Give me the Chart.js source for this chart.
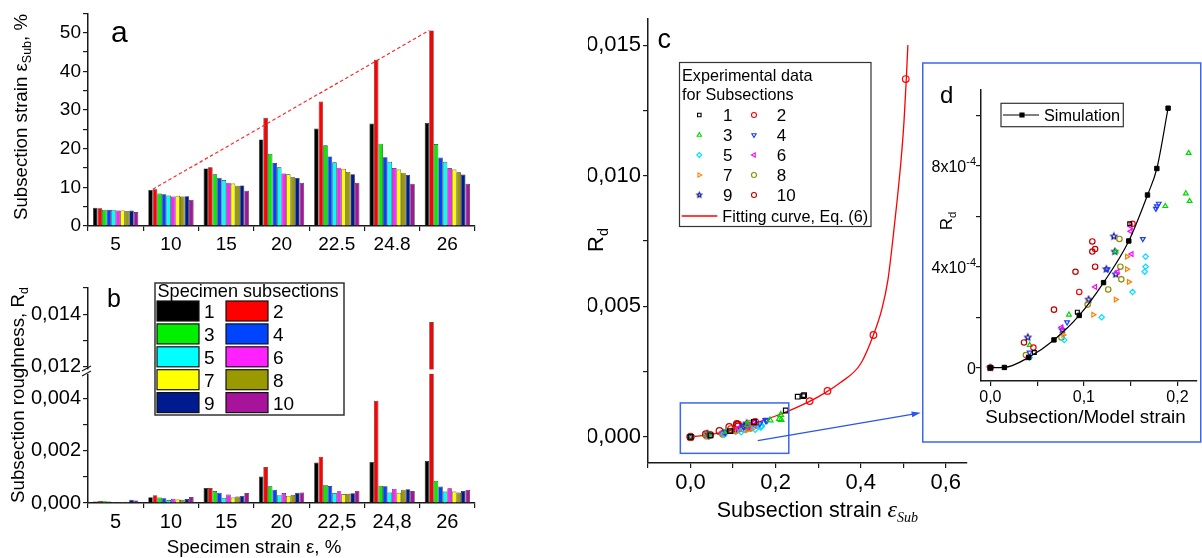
<!DOCTYPE html>
<html>
<head>
<meta charset="utf-8">
<script src="https://cdn.jsdelivr.net/npm/chart.js@4.4.1/dist/chart.umd.min.js"></script>
<style>
  body { margin: 0; background: #fff; width: 1202px; height: 558px; position: relative; overflow: hidden; }
  canvas { position: absolute; }
</style>
</head>
<body>
<canvas id="chartA" width="490" height="250" style="left:0;top:0"></canvas>
<canvas id="chartB" width="490" height="308" style="left:0;top:250px"></canvas>
<canvas id="chartC" width="642" height="558" style="left:560px;top:0"></canvas>
<canvas id="chartD" width="280" height="381" style="left:922px;top:62px"></canvas>
<script>
// ---- data ----
var specimenStrain = ['5', '10', '15', '20', '22,5', '24,8', '26'];
var subsectionNames = ['1', '2', '3', '4', '5', '6', '7', '8', '9', '10'];

// subsection strain, % (panel a) - one row per subsection
var subsectionStrain = [
  [4.7, 9.3, 14.9, 22.4, 25.2, 26.5, 26.7],
  [4.6, 9.5, 15.2, 28.0, 32.2, 43.0, 50.6],
  [4.2, 8.4, 13.4, 18.7, 20.9, 21.3, 21.2],
  [4.2, 8.2, 12.5, 16.3, 18.0, 17.8, 17.7],
  [4.2, 7.9, 11.9, 15.2, 16.5, 16.6, 16.6],
  [4.0, 7.6, 11.2, 13.6, 15.1, 15.0, 15.0],
  [4.0, 7.8, 11.0, 13.4, 14.8, 14.6, 14.6],
  [3.8, 7.6, 10.4, 12.6, 14.0, 13.8, 13.9],
  [4.0, 7.7, 10.5, 12.4, 13.4, 13.2, 13.3],
  [3.6, 6.8, 9.1, 11.2, 11.2, 10.9, 10.9]
];

// subsection roughness Rd (panel b)
var subsectionRd = [
  [0.00006, 0.00022, 0.00057, 0.00101, 0.00154, 0.00156, 0.0016],
  [0.00008, 0.0003, 0.00057, 0.00137, 0.00176, 0.0039, 0.0137],
  [0.00009, 0.00021, 0.00046, 0.00064, 0.00069, 0.00066, 0.00085],
  [0.00006, 0.00018, 0.00039, 0.00051, 0.00065, 0.00064, 0.00063],
  [0.00004, 0.00011, 0.0002, 0.0003, 0.00038, 0.0004, 0.00044],
  [0.00004, 0.00016, 0.00032, 0.00038, 0.00045, 0.00054, 0.00056],
  [0.00004, 0.00013, 0.00021, 0.00027, 0.00034, 0.00039, 0.00044],
  [0.00005, 0.00012, 0.00025, 0.00031, 0.00035, 0.00051, 0.0004],
  [0.00012, 0.00015, 0.00027, 0.00039, 0.00037, 0.00052, 0.00046],
  [0.0001, 0.00023, 0.00038, 0.0004, 0.00047, 0.00046, 0.0005]
];

// unloaded state, shown as the first point of every subsection in c and d
var unstrainedStrain = 0;
var unstrainedRd = 0;

// fitting curve Eq. (6)
var fitStrain = [0, 0.05, 0.1, 0.15, 0.2, 0.25, 0.3, 0.35, 0.4, 0.43, 0.45, 0.464, 0.476, 0.486, 0.495, 0.502, 0.507, 0.511];
var fitRd = [0, 0.0001, 0.00028, 0.00052, 0.0008, 0.00113, 0.00153, 0.00205, 0.0028, 0.0039, 0.0049, 0.006, 0.0076, 0.0091, 0.0106, 0.0121, 0.0136, 0.015];

// simulation (panel d)
var simStrain = [0, 0.015, 0.041, 0.068, 0.095, 0.121, 0.148, 0.168, 0.178, 0.19];
var simRd = [0, 0.000001, 0.000041, 0.00011, 0.000207, 0.000337, 0.000502, 0.000684, 0.000789, 0.001028];

// tick values
var strainTicks = [0, 5, 10, 15, 20, 25, 30, 35, 40, 45, 50, 55];
var rdTicksLow = [0, 0.001, 0.002, 0.003, 0.004];
var rdTicksHigh = [0.012, 0.013, 0.014, 0.015];
var cStrainTicks = [-0.1, 0, 0.1, 0.2, 0.3, 0.4, 0.5, 0.6];
var cRdTicks = [0, 0.0025, 0.005, 0.0075, 0.01, 0.0125, 0.015];
var dStrainTicks = [0, 0.05, 0.1, 0.15, 0.2];
var dRdTicks = [0, 0.0002, 0.0004, 0.0006, 0.0008, 0.001];
var dRdLabels = [[0, '0', ''], [0.0004, '4x10', '-4'], [0.0008, '8x10', '-4']];

// region of c magnified in d (data units) and the arrow pointing to d
var zoomWindow = { xMin: -0.024, xMax: 0.231, yMin: -0.00063, yMax: 0.0013 };
var arrowFrom = { x: 0.158, y: -0.00014 };
var arrowTo = { x: 0.541, y: 0.00092 };

// ---- styles ----
var barColors = ['#000000', '#ff0000', '#00f000', '#0044ff', '#00ffff', '#ff22ff', '#ffff00', '#999900', '#001a90', '#a8139c'];
var markerColors = ['#000000', '#ff0000', '#00d800', '#1a3cff', '#00e0ff', '#ff00ff', '#ff8000', '#8c8c00', '#000090', '#c00000'];
var markerRotation = [0, 0, 0, 180, 0, 270, 90, 0, 0, 0];

var FONT = '"Liberation Sans", Arial, sans-serif';
var AXIS = '#1a1a1a';
Chart.defaults.font.family = FONT;
Chart.defaults.color = '#000';

function starImage(color, r) {
  var c = document.createElement('canvas');
  var s = Math.ceil(r * 2 + 3);
  c.width = c.height = s;
  var g = c.getContext('2d');
  g.strokeStyle = color;
  g.lineWidth = 1.1;
  g.beginPath();
  for (var k = 0; k < 10; k++) {
    var ang = -Math.PI / 2 + k * Math.PI / 5;
    var rr = k % 2 ? r * 0.45 : r;
    g.lineTo(s / 2 + rr * Math.cos(ang), s / 2 + rr * Math.sin(ang));
  }
  g.closePath();
  g.stroke();
  return c;
}
var markerStyles = ['rect', 'circle', 'triangle', 'triangle', 'rectRot', 'triangle', 'triangle', 'circle', starImage('#000090', 3.3), 'circle'];
var legendStar = starImage('#000090', 2.6);

function comma(v, d) { return v.toFixed(d).replace('.', ','); }
function fixTicks(values) {
  return function (scale) { scale.ticks = values.map(function (v) { return { value: v }; }); };
}
function partFont(p) { return (p.i ? 'italic ' : '') + p.s + 'px ' + (p.serif ? '"Liberation Serif", serif' : FONT); }
function drawRich(ctx, item) {
  ctx.save();
  ctx.translate(item.x, item.y);
  if (item.rot) ctx.rotate(item.rot);
  var widths = item.parts.map(function (p) { ctx.font = partFont(p); return ctx.measureText(p.t).width; });
  var total = widths.reduce(function (a, b) { return a + b; }, 0);
  var x = item.align === 'left' ? 0 : item.align === 'right' ? -total : -total / 2;
  ctx.fillStyle = '#000';
  ctx.textBaseline = 'alphabetic';
  ctx.textAlign = 'left';
  item.parts.forEach(function (p, i) {
    ctx.font = partFont(p);
    ctx.fillText(p.t, x, p.dy || 0);
    x += widths[i];
  });
  ctx.restore();
}
function textPlugin(items) {
  return { id: 'texts', afterDraw: function (chart) { items.forEach(function (it) { drawRich(chart.ctx, it); }); } };
}
function axisX(size, height) {
  return {
    border: { display: true, color: AXIS, width: 1.5 },
    grid: { drawOnChartArea: false, drawTicks: true, tickLength: 5, color: AXIS, lineWidth: 1.2 },
    ticks: { font: { size: size }, color: '#000', padding: 2, maxRotation: 0, autoSkip: false },
    afterFit: function (s) { s.height = height; }
  };
}
function axisY(size, width) {
  var a = axisX(size, 0);
  a.afterFit = function (s) { s.width = width; };
  return a;
}
function boxLine(ctx, x, y, w, h, color, lw) {
  ctx.save(); ctx.strokeStyle = color; ctx.lineWidth = lw; ctx.strokeRect(x, y, w, h); ctx.restore();
}
function categoryLabel(v, i) { return specimenStrain[i]; }

// ---- panel a ----
var xa = axisX(19, 24);
xa.ticks.callback = categoryLabel;
var ya = axisY(19, 60);
ya.min = 0; ya.max = 55;
ya.afterBuildTicks = fixTicks(strainTicks);
ya.ticks.callback = function (v) { return v % 10 === 0 ? String(v) : ''; };

var envelopePlugin = {
  id: 'envelope',
  afterDatasetsDraw: function (chart) {
    var bars = chart.getDatasetMeta(1).data;
    var p = bars[1], q = bars[bars.length - 1];
    var ctx = chart.ctx;
    ctx.save();
    ctx.strokeStyle = '#ff2a2a';
    ctx.lineWidth = 1.2;
    ctx.setLineDash([3.5, 2.5]);
    ctx.beginPath();
    ctx.moveTo(p.x - p.width / 2, p.y);
    ctx.lineTo(q.x - q.width / 2, q.y);
    ctx.stroke();
    ctx.restore();
  }
};

new Chart(document.getElementById('chartA'), {
  type: 'bar',
  data: {
    labels: specimenStrain,
    datasets: subsectionNames.map(function (n, i) {
      return { label: n, data: subsectionStrain[i], backgroundColor: barColors[i], borderColor: '#2a2a2a', borderWidth: 0.7,
        categoryPercentage: 0.82, barPercentage: 1 };
    })
  },
  options: {
    responsive: false, animation: false,
    layout: { padding: { left: 28, top: 9, right: 15, bottom: 0 } },
    scales: { x: xa, y: ya },
    plugins: { legend: { display: false }, tooltip: { enabled: false } }
  },
  plugins: [envelopePlugin, textPlugin([
    { parts: [{ t: 'a', s: 30 }], x: 111, y: 42, align: 'left' },
    { parts: [{ t: 'Subsection strain \u03b5', s: 18.7 }, { t: 'Sub', s: 12.5, dy: 4 }, { t: ', %', s: 18.7 }], x: 27, y: 117, rot: -Math.PI / 2 }
  ])]
});

// ---- panel b (broken axis: two stacked value scales) ----
var xb = axisX(20, 55);
xb.ticks.callback = categoryLabel;
function rdAxis(min, max, ticks, weight, stackWeight) {
  var a = axisY(20, 60);
  a.type = 'linear';
  a.position = 'left';
  a.stack = 'rd';
  a.stackWeight = stackWeight;
  a.weight = weight;
  a.stacked = false;
  a.beginAtZero = false;
  a.min = min; a.max = max;
  a.afterBuildTicks = fixTicks(ticks);
  a.ticks.callback = function (v) { return Math.round(v * 1000) % 2 === 0 ? comma(v, 3) : ''; };
  return a;
}
var barDatasetsB = [];
['yLow', 'yHigh'].forEach(function (axisId) {
  subsectionNames.forEach(function (n, i) {
    barDatasetsB.push({ label: n, data: subsectionRd[i], yAxisID: axisId, stack: 'g' + i, clip: 0,
      backgroundColor: barColors[i], borderColor: '#2a2a2a', borderWidth: 0.7, categoryPercentage: 0.82, barPercentage: 1 });
  });
});

var breakPlugin = {
  id: 'axisBreak',
  afterDatasetsDraw: function (chart) {
    var ctx = chart.ctx, a = chart.chartArea, yb = chart.scales.yLow.top;
    ctx.save();
    ctx.fillStyle = '#fff';
    ctx.fillRect(a.left - 8, yb - 2.5, a.right - a.left + 8, 4.5);
    ctx.strokeStyle = AXIS;
    ctx.lineWidth = 1.2;
    ctx.beginPath();
    ctx.moveTo(a.left - 6, yb - 1); ctx.lineTo(a.left + 3, yb - 6);
    ctx.moveTo(a.left - 6, yb + 4); ctx.lineTo(a.left + 3, yb - 1);
    ctx.stroke();
    ctx.restore();
  }
};

var legendB = {
  id: 'legendB',
  afterDraw: function (chart) {
    var ctx = chart.ctx;
    ctx.save();
    ctx.fillStyle = '#fff';
    ctx.fillRect(155, 33, 189, 132);
    boxLine(ctx, 155, 33, 189, 132, '#333', 1.5);
    ctx.fillStyle = '#000';
    ctx.font = '18.1px ' + FONT;
    ctx.textBaseline = 'alphabetic';
    ctx.fillText('Specimen subsections', 157.5, 46.5);
    for (var i = 0; i < 10; i++) {
      var ds = chart.data.datasets[i];
      var col = i % 2, row = Math.floor(i / 2);
      var sx = col ? 226 : 157, sy = 51 + row * 22.9;
      ctx.fillStyle = ds.backgroundColor;
      ctx.fillRect(sx, sy, 42, 20);
      boxLine(ctx, sx, sy, 42, 20, '#111', 1.2);
      ctx.fillStyle = '#000';
      ctx.font = '19px ' + FONT;
      ctx.fillText(ds.label, sx + 47, sy + 17);
    }
    ctx.restore();
  }
};

new Chart(document.getElementById('chartB'), {
  type: 'bar',
  data: { labels: specimenStrain, datasets: barDatasetsB },
  options: {
    responsive: false, animation: false,
    layout: { padding: { left: 28, top: 38, right: 15, bottom: 0 } },
    scales: {
      x: xb,
      yLow: rdAxis(0, 0.005, rdTicksLow, 1, 5),
      yHigh: rdAxis(0.0118, 0.015, rdTicksHigh, 2, 3.2)
    },
    plugins: { legend: { display: false }, tooltip: { enabled: false } }
  },
  plugins: [breakPlugin, legendB, textPlugin([
    { parts: [{ t: 'b', s: 25 }], x: 107, y: 57, align: 'left' },
    { parts: [{ t: 'Subsection roughness, R', s: 18.7 }, { t: 'd', s: 12.5, dy: 4 }], x: 24, y: 145, rot: -Math.PI / 2 },
    { parts: [{ t: 'Specimen strain \u03b5, %', s: 18.7 }], x: 254, y: 302.5 }
  ])]
});

// ---- scatter data for c and d ----
function scatterSets(radius) {
  return subsectionNames.map(function (n, i) {
    var pts = [{ x: unstrainedStrain, y: unstrainedRd }].concat(subsectionStrain[i].map(function (s, j) {
      return { x: s / 100, y: subsectionRd[i][j] };
    }));
    return { label: n, data: pts, showLine: false, pointStyle: markerStyles[i], pointRotation: markerRotation[i],
      pointRadius: radius, pointBorderWidth: 1.2, pointBorderColor: markerColors[i], borderColor: markerColors[i],
      pointBackgroundColor: 'rgba(0,0,0,0)', backgroundColor: 'rgba(0,0,0,0)' };
  });
}

// ---- panel c ----
var xc = axisX(22, 95);
xc.type = 'linear'; xc.min = -0.1; xc.max = 0.65;
xc.afterBuildTicks = fixTicks(cStrainTicks);
xc.ticks.callback = function (v) { var k = Math.round(v * 10); return k >= 0 && k % 2 === 0 ? comma(v, 1) : ''; };
var yc = axisY(22, 60);
yc.type = 'linear'; yc.min = -0.001; yc.max = 0.016;
yc.afterBuildTicks = fixTicks(cRdTicks);
yc.ticks.callback = function (v) { return Math.round(v * 10000) % 50 === 0 ? comma(v, 3) : ''; };

var datasetsC = scatterSets(3.3);
datasetsC.push({ label: 'Fitting curve, Eq. (6)', data: fitStrain.map(function (s, j) { return { x: s, y: fitRd[j] }; }),
  showLine: true, pointRadius: 0, borderColor: '#ff0000', borderWidth: 1.3, cubicInterpolationMode: 'monotone' });

var zoomPlugin = {
  id: 'zoomWindow',
  afterDatasetsDraw: function (chart) {
    var xs = chart.scales.x, ys = chart.scales.y, ctx = chart.ctx;
    var l = xs.getPixelForValue(zoomWindow.xMin), r = xs.getPixelForValue(zoomWindow.xMax);
    var t = ys.getPixelForValue(zoomWindow.yMax), b = ys.getPixelForValue(zoomWindow.yMin);
    boxLine(ctx, l, t, r - l, b - t, '#3d66f0', 1.5);
    var x0 = xs.getPixelForValue(arrowFrom.x), y0 = ys.getPixelForValue(arrowFrom.y);
    var x1 = xs.getPixelForValue(arrowTo.x), y1 = ys.getPixelForValue(arrowTo.y);
    var ang = Math.atan2(y1 - y0, x1 - x0);
    ctx.save();
    ctx.strokeStyle = ctx.fillStyle = '#2a55ee';
    ctx.lineWidth = 1.3;
    ctx.beginPath(); ctx.moveTo(x0, y0); ctx.lineTo(x1 - 6 * Math.cos(ang), y1 - 6 * Math.sin(ang)); ctx.stroke();
    ctx.beginPath();
    ctx.moveTo(x1, y1);
    ctx.lineTo(x1 - 9 * Math.cos(ang) + 3 * Math.sin(ang), y1 - 9 * Math.sin(ang) - 3 * Math.cos(ang));
    ctx.lineTo(x1 - 9 * Math.cos(ang) - 3 * Math.sin(ang), y1 - 9 * Math.sin(ang) + 3 * Math.cos(ang));
    ctx.closePath(); ctx.fill();
    ctx.restore();
  }
};

var legendC = {
  id: 'legendC',
  afterDraw: function (chart) {
    var ctx = chart.ctx;
    ctx.save();
    ctx.fillStyle = '#fff';
    ctx.fillRect(119.5, 62.5, 191.5, 164);
    boxLine(ctx, 119.5, 62.5, 191.5, 164, '#333', 1.2);
    ctx.fillStyle = '#000';
    ctx.font = '16.2px ' + FONT;
    ctx.textBaseline = 'alphabetic';
    ctx.fillText('Experimental data', 122, 80.8);
    ctx.fillText('for Subsections', 122, 100.3);
    for (var i = 0; i < 10; i++) {
      var ds = chart.data.datasets[i];
      var col = i % 2, row = Math.floor(i / 2);
      var cy = 115 + row * 20, cx = col ? 194 : 139.3;
      ctx.strokeStyle = ds.pointBorderColor;
      ctx.fillStyle = 'rgba(0,0,0,0)';
      ctx.lineWidth = 1.1;
      var style = typeof ds.pointStyle === 'string' ? ds.pointStyle : legendStar;
      Chart.helpers.drawPoint(ctx, { pointStyle: style, rotation: ds.pointRotation, radius: 2.5, borderWidth: 1.1 }, cx, cy);
      ctx.fillStyle = '#000';
      ctx.font = '17px ' + FONT;
      ctx.fillText(ds.label, col ? 216.7 : 163, cy + 6);
    }
    var fit = chart.data.datasets[10];
    ctx.strokeStyle = fit.borderColor;
    ctx.lineWidth = 1.3;
    ctx.beginPath(); ctx.moveTo(121.7, 216); ctx.lineTo(157.3, 216); ctx.stroke();
    ctx.fillStyle = '#000';
    ctx.font = '16.2px ' + FONT;
    ctx.fillText(fit.label, 162.3, 221.8);
    ctx.restore();
  }
};

new Chart(document.getElementById('chartC'), {
  type: 'scatter',
  data: { datasets: datasetsC },
  options: {
    responsive: false, animation: false,
    layout: { padding: { left: 28, top: 19, right: 235, bottom: 0 } },
    scales: { x: xc, y: yc },
    plugins: { legend: { display: false }, tooltip: { enabled: false } }
  },
  plugins: [zoomPlugin, legendC, textPlugin([
    { parts: [{ t: 'c', s: 27 }], x: 97.5, y: 48, align: 'left' },
    { parts: [{ t: 'R', s: 22 }, { t: 'd', s: 14.5, dy: 4.5 }], x: 43, y: 240, rot: -Math.PI / 2 },
    { parts: [{ t: 'Subsection strain ', s: 21.5 }, { t: '\u03b5', s: 24, i: true, serif: true }, { t: 'Sub', s: 14, i: true, serif: true, dy: 5 }], x: 156.7, y: 517.3, align: 'left' }
  ])]
});

// ---- panel d ----
var xd = axisX(16, 62);
xd.type = 'linear'; xd.min = -0.01; xd.max = 0.2207;
xd.afterBuildTicks = fixTicks(dStrainTicks);
xd.ticks.callback = function (v) { return Math.round(v * 100) % 10 === 0 ? comma(v, 1) : ''; };
var yd = axisY(16, 45);
yd.type = 'linear'; yd.min = -0.0000527; yd.max = 0.0011;
yd.afterBuildTicks = fixTicks(dRdTicks);
yd.ticks.callback = function () { return ''; };

var datasetsD = [{ label: 'Simulation', data: simStrain.map(function (s, j) { return { x: s, y: simRd[j] }; }),
  showLine: true, borderColor: '#000', borderWidth: 1.2, cubicInterpolationMode: 'monotone',
  pointStyle: 'rect', pointRadius: 3.1, pointBackgroundColor: '#000', pointBorderColor: '#000', pointBorderWidth: 1 }]
  .concat(scatterSets(2.7));

var frameD = {
  id: 'frameD',
  beforeDraw: function (chart) {
    var ctx = chart.ctx;
    ctx.save(); ctx.fillStyle = '#fff'; ctx.fillRect(0, 0, chart.width, chart.height); ctx.restore();
  },
  afterDraw: function (chart) {
    var ctx = chart.ctx, ys = chart.scales.y;
    boxLine(ctx, 0.75, 1, 278, 379, '#3d66f0', 1.5);
    // y tick labels with exponents
    dRdLabels.forEach(function (lb) {
      var y = ys.getPixelForValue(lb[0]);
      var parts = [{ t: lb[1], s: 16 }];
      if (lb[2]) parts.push({ t: lb[2], s: 11, dy: -7 });
      drawRich(ctx, { parts: parts, x: 54, y: y + 6, align: 'right' });
    });
    // legend
    var sim = chart.data.datasets[0];
    ctx.save();
    ctx.fillStyle = '#fff';
    ctx.fillRect(79, 41.3, 122.3, 23.4);
    boxLine(ctx, 79, 41.3, 122.3, 23.4, '#333', 1.2);
    ctx.strokeStyle = sim.borderColor;
    ctx.lineWidth = 1.2;
    ctx.beginPath(); ctx.moveTo(81, 53); ctx.lineTo(117, 53); ctx.stroke();
    ctx.fillStyle = '#000';
    Chart.helpers.drawPoint(ctx, { pointStyle: 'rect', rotation: 0, radius: 2.8, borderWidth: 1 }, 100, 53);
    ctx.font = '16.3px ' + FONT;
    ctx.textBaseline = 'alphabetic';
    ctx.fillText(sim.label, 122, 58.8);
    ctx.restore();
  }
};

new Chart(document.getElementById('chartD'), {
  type: 'scatter',
  data: { datasets: datasetsD },
  options: {
    responsive: false, animation: false,
    layout: { padding: { left: 14, top: 28, right: 5, bottom: 0 } },
    scales: { x: xd, y: yd },
    plugins: { legend: { display: false }, tooltip: { enabled: false } }
  },
  plugins: [frameD, textPlugin([
    { parts: [{ t: 'd', s: 24 }], x: 18, y: 41, align: 'left' },
    { parts: [{ t: 'R', s: 17 }, { t: 'd', s: 11.5, dy: 3.5 }], x: 30, y: 159, rot: -Math.PI / 2 },
    { parts: [{ t: 'Subsection/Model strain', s: 18.8 }], x: 163.5, y: 361 }
  ])]
});
</script>
</body>
</html>
